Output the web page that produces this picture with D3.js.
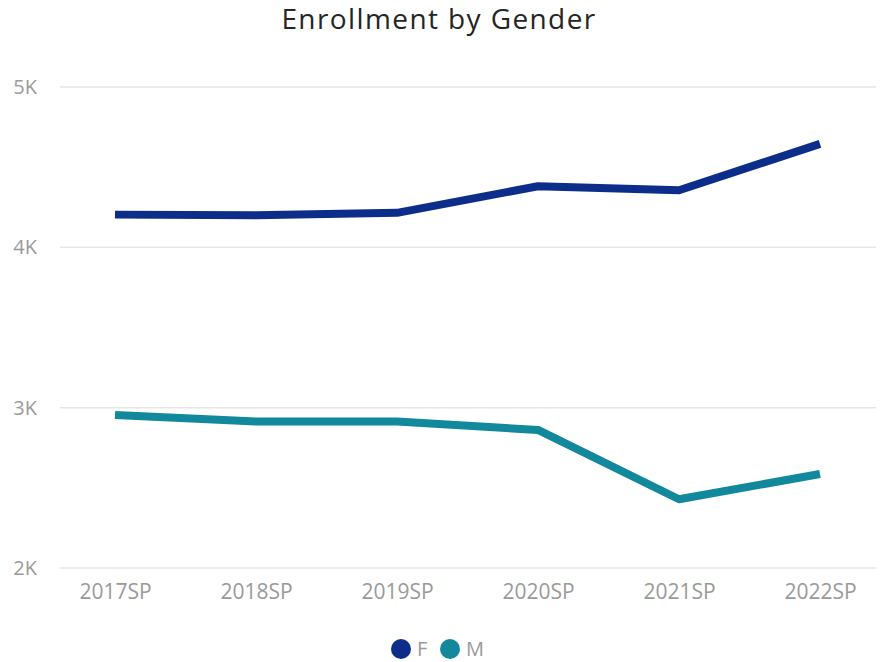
<!DOCTYPE html>
<html>
<head>
<meta charset="utf-8">
<script src="https://cdn.jsdelivr.net/npm/d3@7"></script>
<style>
  html, body { margin: 0; padding: 0; background: #fff; }
  svg { display: block; font-family: "Open Sans", Lato, sans-serif; }
</style>
</head>
<body>
<svg id="chart" width="887" height="662"></svg>
<script>
// Spring-term enrollment counts by gender
const terms = ["2017SP", "2018SP", "2019SP", "2020SP", "2021SP", "2022SP"];
const female = [4204, 4200, 4215, 4381, 4356, 4645];
const male = [2954, 2913, 2913, 2861, 2429, 2586];
const yTicks = [2000, 3000, 4000, 5000];
const seriesNames = ["F", "M"];
const seriesColors = ["#0c2e8a", "#11889b"];

const FONT = "'Open Sans', Lato, sans-serif";
const svg = d3.select("#chart");

const x = d3.scalePoint().domain(terms).range([115, 820]);
const y = d3.scaleLinear().domain([2000, 5000]).range([568, 87]);

// Title
svg.append("text")
  .attr("x", 439).attr("y", 29)
  .attr("text-anchor", "middle")
  .attr("font-size", 28)
  .attr("font-weight", 400)
  .attr("letter-spacing", 1.4)
  .attr("fill", "#252525")
  .text("Enrollment by Gender");

// Horizontal gridlines
svg.append("g")
  .selectAll("line")
  .data(yTicks)
  .join("line")
  .attr("x1", 60).attr("x2", 876)
  .attr("y1", d => y(d)).attr("y2", d => y(d))
  .attr("stroke", "#e6e6e6")
  .attr("stroke-width", 1.5);

// Y axis labels
const yAxis = d3.axisLeft(y)
  .tickValues(yTicks)
  .tickFormat(d => d3.format("d")(d / 1000) + "K")
  .tickSize(0)
  .tickPadding(0);
svg.append("g")
  .attr("transform", "translate(37,0)")
  .call(yAxis)
  .call(g => g.select(".domain").remove())
  .call(g => g.selectAll("text")
    .attr("font-size", 20)
    .attr("font-weight", 400)
    .attr("fill", "#9a9a9a")
    .attr("font-family", FONT));

// X axis labels
const xAxis = d3.axisBottom(x).tickSize(0).tickPadding(0);
svg.append("g")
  .attr("transform", "translate(0,584)")
  .call(xAxis)
  .call(g => g.select(".domain").remove())
  .call(g => g.selectAll("text")
    .attr("font-size", 21)
    .attr("font-weight", 400)
    .attr("fill", "#9a9a9a")
    .attr("font-family", FONT));

// Lines
const line = d3.line()
  .x((d, i) => x(terms[i]))
  .y(d => y(d));

[female, male].forEach((vals, k) => {
  svg.append("path")
    .datum(vals)
    .attr("d", line)
    .attr("fill", "none")
    .attr("stroke", seriesColors[k])
    .attr("stroke-width", 8)
    .attr("stroke-linejoin", "round");
});

// Legend
const legendPos = [401, 450];
const legend = svg.append("g");
seriesNames.forEach((name, k) => {
  legend.append("circle")
    .attr("cx", legendPos[k]).attr("cy", 649)
    .attr("r", 10)
    .attr("fill", seriesColors[k]);
  legend.append("text")
    .attr("x", legendPos[k] + 16).attr("y", 656)
    .attr("font-size", 20)
    .attr("font-weight", 400)
    .attr("fill", "#9a9a9a")
    .text(name);
});
</script>
</body>
</html>
